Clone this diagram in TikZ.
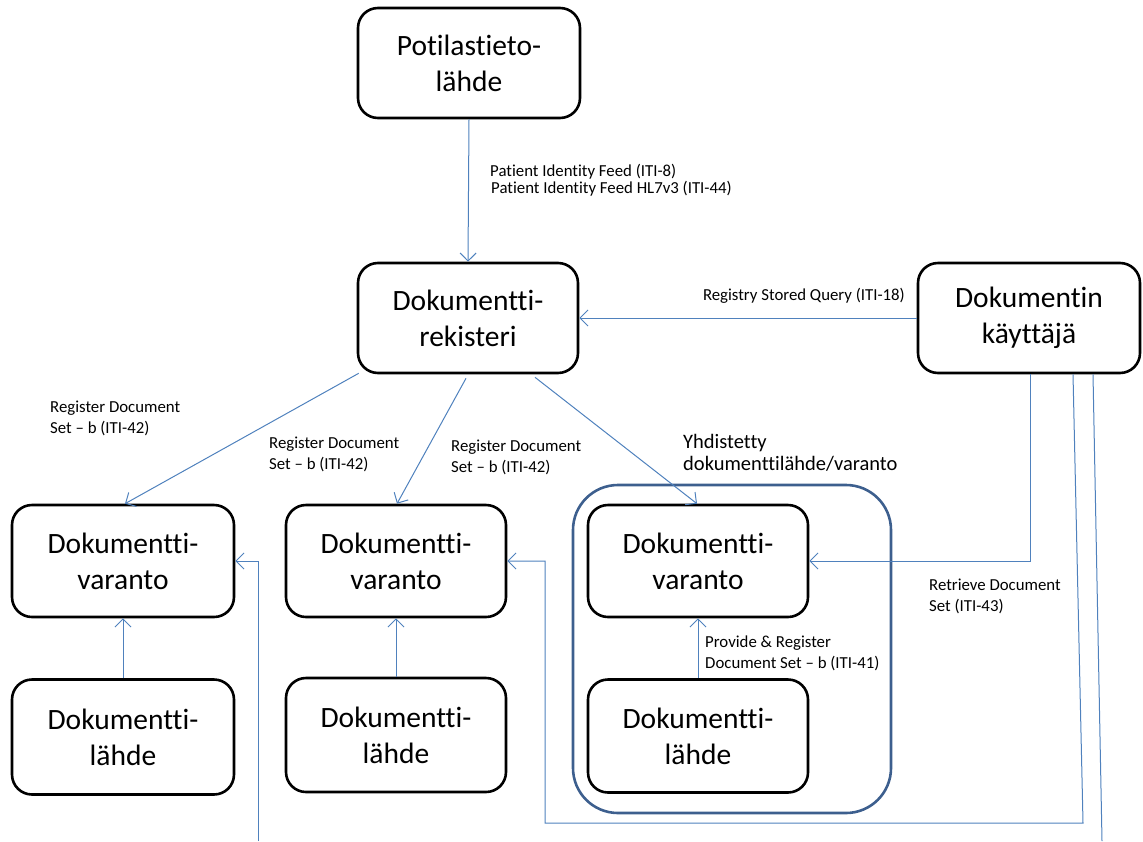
\documentclass[tikz,border=0pt]{standalone}
\usepackage{fontspec}
\setmainfont{Carlito}[Ligatures={NoCommon,NoRare,NoContextual}]
\usetikzlibrary{arrows.meta}
\definecolor{connc}{HTML}{4F81BD}
\definecolor{contc}{HTML}{3D5F8E}
\begin{document}
\begin{tikzpicture}[x=1pt,y=-1pt,
  box/.style={draw=black, line width=2.6pt, rounded corners=20pt, minimum width=220pt, minimum height=110pt, align=center, inner sep=0pt, font=\fontsize{29.5}{36}\selectfont},
  conn/.style={draw=connc, line width=1pt, -{Straight Barb[length=8pt,width=16pt]}},
  plain/.style={draw=connc, line width=1pt},
  lbl/.style={font=\fontsize{16.8}{20.5}\selectfont, align=left, inner sep=0pt, anchor=north west},
  cont/.style={draw=contc, line width=2.6pt, rounded corners=45pt}]
\useasboundingbox (0,0) rectangle (1143,841);

% container
\draw[cont] (573,485) rectangle (891,813);

% nodes
\node[box, minimum width=222pt] (pot) at (469,63) {Potilastieto-\\lähde};
\node[box] (rek) at (468,318) {Dokumentti-\\rekisteri};
\node[box, minimum width=222pt] (kay) at (1029,318) {Dokumentin\\käyttäjä};
\node[box, minimum width=222pt, minimum height=112pt] (var1) at (123,561) {Dokumentti-\\varanto};
\node[box, minimum height=112pt] (var2) at (396,561) {Dokumentti-\\varanto};
\node[box, minimum height=112pt] (var3) at (698,561) {Dokumentti-\\varanto};
\node[box, minimum width=222pt, minimum height=115pt] (lah1) at (123,737) {Dokumentti-\\lähde};
\node[box, minimum height=114pt] (lah2) at (396,735) {Dokumentti-\\lähde};
\node[box, minimum height=113pt] (lah3) at (698,736) {Dokumentti-\\lähde};

% free ends
\coordinate (c1) at (1083,823);
\coordinate (c2) at (545,823);
\coordinate (c3) at (1102,841);
\coordinate (c4) at (258,841);

% connectors
\draw[conn] (pot.south) -- (rek.north);
\draw[conn] (kay.west) -- (rek.east);
\draw[conn] ([xshift=2pt,yshift=1pt]rek.south west) -- ([xshift=2pt]var1.north);
\draw[conn] ([xshift=-2pt,yshift=-4pt]rek.south) -- ([xshift=1pt]var2.north);
\draw[conn] ([xshift=67pt,yshift=-3pt]rek.south) -- ([xshift=-1pt]var3.north);
\draw[conn] (lah1.north) -- (var1.south);
\draw[conn] (lah2.north) -- (var2.south);
\draw[conn] (lah3.north) -- (var3.south);
\draw[conn] ([xshift=1pt]kay.south) |- (var3.east);
\draw[conn] ([xshift=44pt]kay.south) -- (c1) -- (c2) |- (var2.east);
\draw[plain] ([xshift=64pt]kay.south) -- (c3);
\draw[conn] (c4) |- (var1.east);

% labels
\node[lbl, font=\fontsize{16.8}{17.5}\selectfont] (l1) at (490,164) {Patient Identity Feed (ITI-8)\\\hspace{1pt}Patient Identity Feed HL7v3 (ITI-44)};
\node[lbl, anchor=north east] (l2) at (905,288) {Registry Stored Query (ITI-18)};
\node[lbl] (l3) at (50,401) {Register Document\\Set – b (ITI-42)};
\node[lbl] (l4) at (269,437) {Register Document\\Set – b (ITI-42)};
\node[lbl] (l5) at (451,440) {Register Document\\Set – b (ITI-42)};
\node[lbl, font=\fontsize{20.5}{22.5}\selectfont] (l6) at (683,434) {Yhdistetty\\dokumenttilähde/varanto};
\node[lbl] (l7) at (705,636) {Provide \& Register\\Document Set – b (ITI-41)};
\node[lbl] (l8) at (929,579) {Retrieve Document\\Set (ITI-43)};
\end{tikzpicture}
\end{document}
